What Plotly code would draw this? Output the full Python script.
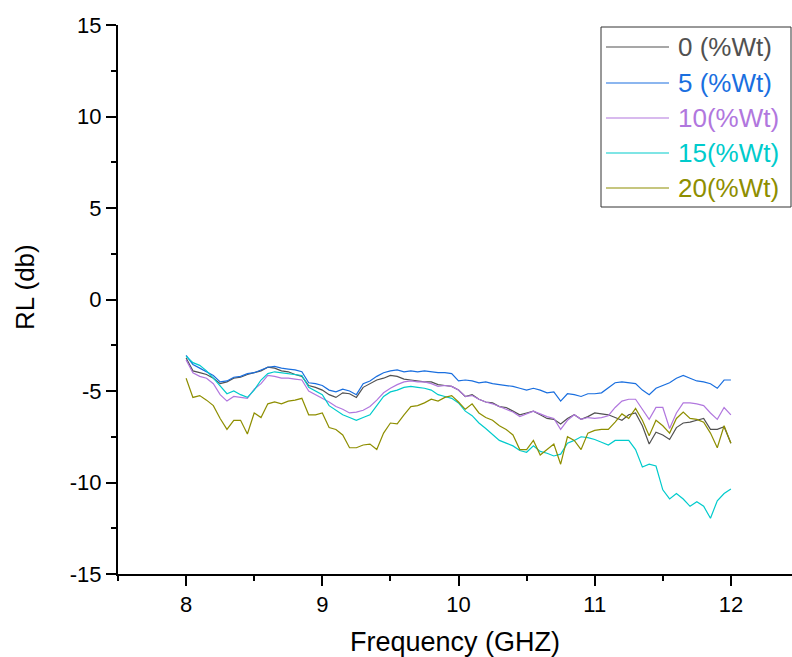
import numpy as np
import plotly.graph_objects as go

freq = np.round(np.linspace(8.0, 12.0, 81), 2)

rl_0 = [-3.2, -3.9, -4.0, -4.1, -4.3, -4.6, -4.5, -4.3, -4.25, -4.1,
        -4.0, -3.9, -3.7, -3.75, -3.9, -3.95, -4.1, -4.2, -4.7, -4.8,
        -4.95, -5.2, -5.35, -5.1, -5.15, -5.35, -4.8, -4.6, -4.4, -4.3,
        -4.15, -4.2, -4.35, -4.4, -4.45, -4.5, -4.5, -4.65, -4.7, -4.75,
        -4.95, -5.3, -5.2, -5.45, -5.6, -5.65, -5.85, -5.9, -6.1, -6.3,
        -6.2, -6.1, -6.3, -6.5, -6.55, -6.8, -6.5, -6.3, -6.55, -6.4,
        -6.2, -6.25, -6.3, -6.45, -6.6, -6.3, -6.2, -6.9, -7.9, -7.25,
        -7.4, -7.65, -7.0, -6.75, -6.7, -6.6, -6.5, -7.1, -7.1, -6.95,
        -7.85]

rl_5 = [-3.05, -3.55, -3.75, -3.95, -4.15, -4.5, -4.45, -4.25, -4.2, -4.05,
        -4.0, -3.85, -3.7, -3.65, -3.75, -3.8, -3.85, -3.95, -4.55, -4.6,
        -4.7, -4.95, -5.05, -4.9, -5.0, -5.2, -4.6, -4.45, -4.2, -4.0,
        -3.9, -3.85, -3.95, -3.9, -3.95, -3.9, -3.95, -4.0, -4.0, -4.05,
        -4.45, -4.4, -4.45, -4.55, -4.5, -4.6, -4.65, -4.7, -4.75, -4.85,
        -4.95, -4.85, -4.95, -5.1, -5.05, -5.55, -5.15, -5.2, -5.3, -5.15,
        -5.15, -5.1, -4.8, -4.55, -4.5, -4.55, -4.6, -4.95, -5.2, -4.85,
        -4.7, -4.55, -4.3, -4.15, -4.3, -4.45, -4.5, -4.6, -4.85, -4.4,
        -4.4]

rl_10 = [-3.3, -4.0, -4.2, -4.3, -4.6, -5.2, -5.55, -5.3, -5.35, -5.4,
         -4.9, -4.6, -4.15, -4.2, -4.3, -4.3, -4.35, -4.4, -5.0, -5.2,
         -5.4, -5.6, -5.85, -6.0, -6.2, -6.15, -6.05, -5.85, -5.5, -5.1,
         -4.85, -4.65, -4.5, -4.45, -4.5, -4.5, -4.6, -4.75, -4.7, -4.75,
         -4.95, -5.3, -5.25, -5.45, -5.6, -5.7, -5.85, -6.0, -6.15, -6.4,
         -6.25, -6.1, -6.25, -6.4, -6.5, -7.1, -6.6, -6.3, -6.55, -6.45,
         -6.5, -6.45, -6.35, -5.9, -5.55, -5.45, -5.45, -6.0, -6.55, -5.9,
         -5.9, -7.05, -6.2, -5.65, -5.65, -5.7, -5.8, -6.2, -6.55, -5.9,
         -6.3]

rl_15 = [-3.1, -3.45, -3.6, -3.9, -4.3, -4.75, -5.15, -5.0, -5.2, -5.35,
         -4.95, -4.4, -4.05, -3.95, -4.0, -4.05, -4.1, -4.15, -4.8, -5.0,
         -5.2, -5.8, -6.05, -6.3, -6.45, -6.6, -6.45, -6.3, -5.8, -5.3,
         -5.05, -4.95, -4.8, -4.75, -4.8, -4.85, -4.95, -5.2, -5.3, -5.4,
         -5.65, -6.1, -6.35, -6.75, -7.05, -7.4, -7.7, -7.85, -8.0, -8.25,
         -8.35, -8.0, -8.3, -8.4, -8.55, -8.45, -7.85, -7.7, -7.5, -7.55,
         -7.65, -7.8, -7.95, -7.7, -7.7, -7.7, -8.2, -9.15, -9.0, -9.1,
         -10.4, -10.9, -10.6, -10.9, -11.3, -11.05, -11.3, -11.95, -11.0, -10.6,
         -10.35]

rl_20 = [-4.3, -5.35, -5.25, -5.5, -5.8, -6.5, -7.1, -6.6, -6.6, -7.35,
         -6.2, -6.45, -5.7, -5.6, -5.7, -5.55, -5.5, -5.4, -6.3, -6.3,
         -6.2, -7.0, -7.1, -7.4, -8.1, -8.1, -7.95, -7.9, -8.2, -7.3,
         -6.75, -6.8, -6.3, -5.85, -5.8, -5.65, -5.45, -5.55, -5.35, -5.25,
         -5.6, -6.0, -5.7, -6.2, -6.45, -6.6, -6.9, -7.1, -7.4, -8.2,
         -8.2, -7.7, -8.5, -8.2, -7.9, -9.0, -7.5, -7.7, -8.2, -7.3,
         -7.15, -7.1, -7.1, -6.7, -6.25, -6.5, -5.95, -6.6, -7.45, -6.6,
         -6.9, -7.3, -6.5, -6.15, -6.5, -6.55, -6.7, -7.3, -8.1, -6.9,
         -7.85]

names = ["0 (%Wt)", "5 (%Wt)", "10(%Wt)", "15(%Wt)", "20(%Wt)"]
colors = ["#515151", "#1A6FDF", "#B177DE", "#00CBCC", "#8E8E00"]
series = [rl_0, rl_5, rl_10, rl_15, rl_20]

W, H = 792, 657
ML, MT, MB = 118, 25, 83
x_range = [7.5, 7.5 + (W - ML) / 136.2]

fig = go.Figure()
for name, col, ys in zip(names, colors, series):
    fig.add_trace(go.Scatter(x=freq, y=ys, mode="lines", name=name,
                             line=dict(color=col, width=1.2), showlegend=False))

pw = W - ML
ph = H - MT - MB
def px_x(p):
    return (p - ML) / pw
def px_y(p):
    return 1 - (p - MT) / ph

shapes = [dict(type="rect", xref="paper", yref="paper",
               x0=px_x(601), x1=px_x(791), y0=px_y(207), y1=px_y(27),
               line=dict(color="#333333", width=1), fillcolor="white", layer="above")]
annotations = []
ys_leg = [47, 83, 118, 153, 188]
for name, col, yy in zip(names, colors, ys_leg):
    shapes.append(dict(type="line", xref="paper", yref="paper",
                       x0=px_x(606), x1=px_x(669), y0=px_y(yy), y1=px_y(yy),
                       line=dict(color=col, width=1.2), layer="above"))
    annotations.append(dict(xref="paper", yref="paper", x=px_x(676), y=px_y(yy),
                            text=name, showarrow=False, xanchor="left", yanchor="middle",
                            font=dict(family="Liberation Sans, Arial", size=26, color=col)))

# y-axis title (placed as in the original)
annotations.append(dict(xref="paper", yref="paper", x=px_x(25), y=px_y(287),
                        text="RL (db)", textangle=-90, showarrow=False,
                        xanchor="center", yanchor="middle",
                        font=dict(family="Liberation Sans, Arial", size=26, color="black")))

fig.update_layout(
    width=W, height=H,
    margin=dict(l=ML, r=0, t=MT, b=MB),
    paper_bgcolor="white", plot_bgcolor="white",
    font=dict(family="Liberation Sans, Arial", color="black"),
    shapes=shapes, annotations=annotations,
    showlegend=False,
)
fig.update_xaxes(range=x_range, tickvals=[8, 9, 10, 11, 12], ticktext=["8", "9", "10", "11", "12"],
                 showline=True, linecolor="black", linewidth=2, mirror=False,
                 ticks="outside", ticklen=10, tickwidth=2, tickcolor="black",
                 minor=dict(tickvals=[7.5, 8.5, 9.5, 10.5, 11.5], ticks="outside", ticklen=5, tickwidth=2, tickcolor="black"),
                 showgrid=False, zeroline=False,
                 tickfont=dict(size=22),
                 title=dict(text="Frequency (GHZ)", font=dict(size=27), standoff=21))
fig.update_yaxes(range=[-15, 15], tickvals=[-15, -10, -5, 0, 5, 10, 15],
                 ticktext=["-15", "-10", "-5", "0", "5", "10", "15"],
                 showline=True, linecolor="black", linewidth=2,
                 ticks="outside", ticklen=10, tickwidth=2, tickcolor="black",
                 minor=dict(tickvals=[-12.5, -7.5, -2.5, 2.5, 7.5, 12.5], ticks="outside", ticklen=5, tickwidth=2, tickcolor="black"),
                 showgrid=False, zeroline=False,
                 tickfont=dict(size=22))

fig.write_html("out.html")
